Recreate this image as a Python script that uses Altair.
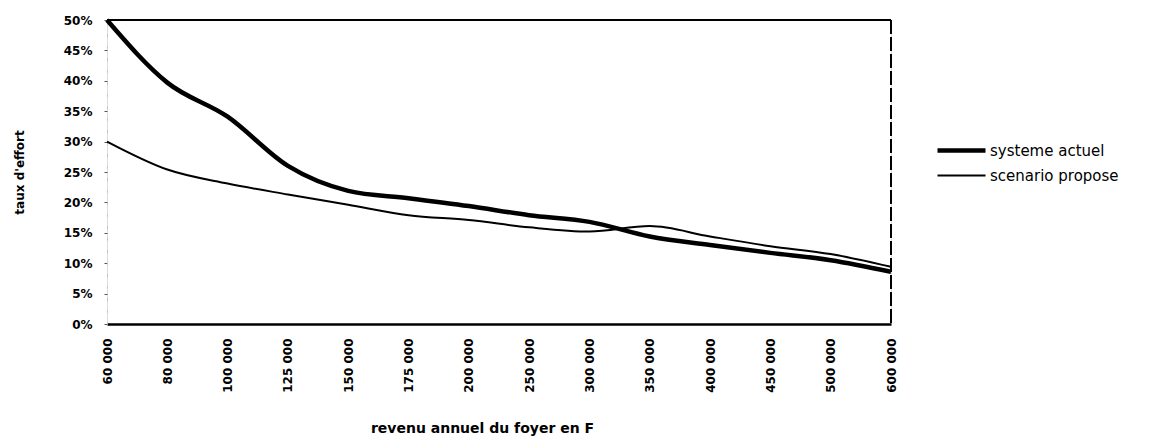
import altair as alt
import pandas as pd

revenus = ["60 000", "80 000", "100 000", "125 000", "150 000", "175 000", "200 000",
           "250 000", "300 000", "350 000", "400 000", "450 000", "500 000", "600 000"]
systeme_actuel = [50, 39.7, 34.1, 26.0, 21.9, 20.7, 19.4, 17.9, 16.8, 14.4, 13.0, 11.7, 10.5, 8.6]
scenario_propose = [30, 25.4, 23.1, 21.3, 19.6, 17.9, 17.1, 15.9, 15.2, 16.1, 14.4, 12.8, 11.5, 9.4]
series = ["systeme actuel", "scenario propose"]
y_ticks = [0, 0.05, 0.10, 0.15, 0.20, 0.25, 0.30, 0.35, 0.40, 0.45, 0.50]

rows = []
for name, vals in zip(series, [systeme_actuel, scenario_propose]):
    for r, v in zip(revenus, vals):
        rows.append({"revenu": r, "taux": v / 100.0, "serie": name})
df = pd.DataFrame(rows)

FONT = "DejaVu Sans"

x_scale = alt.Scale(type="point", domain=revenus, padding=0)
x_axis = alt.Axis(title="revenu annuel du foyer en F", labelAngle=270,
                  labelFont=FONT, labelFontSize=12, labelFontWeight="bold",
                  labelColor="black", labelPadding=14, ticks=False,
                  labelOverlap=False,
                  domainColor="black", domainWidth=2.5,
                  titleFont=FONT, titleFontSize=14, titleFontWeight="bold",
                  titleColor="black", titleX=375, titleY=104,
                  titleAlign="center", titleBaseline="middle")

y_scale = alt.Scale(domain=[0, 0.5], nice=False, zero=True)
y_axis = alt.Axis(title="taux d'effort", values=y_ticks, format=".0%",
                  labelFont=FONT, labelFontSize=12, labelFontWeight="bold",
                  labelColor="black", labelPadding=12, labelOverlap=False,
                  tickColor="#555", tickSize=3, tickWidth=1,
                  domainColor="#bbbbbb", domainDash=[2, 10], domainWidth=1,
                  grid=False, titleFont=FONT, titleFontSize=12,
                  titleFontWeight="bold", titleColor="black",
                  titleAngle=270, titleX=-88, titleY=152,
                  titleAlign="center", titleBaseline="middle")

legend = alt.Legend(orient="none", legendX=846, legendY=122, title=None,
                    symbolType="M-4,0H4", symbolSize=144, labelFont=FONT,
                    labelFontSize=15, labelColor="black", labelOffset=20,
                    rowPadding=8, padding=0)

lines = alt.Chart(df).mark_line(interpolate="monotone").encode(
    x=alt.X("revenu:O", sort=revenus, scale=x_scale, axis=x_axis),
    y=alt.Y("taux:Q", scale=y_scale, axis=y_axis),
    color=alt.Color("serie:N", scale=alt.Scale(domain=series, range=["black", "black"]),
                    legend=legend),
    strokeWidth=alt.StrokeWidth("serie:N", scale=alt.Scale(domain=series, range=[4.5, 2]),
                                legend=legend),
)

top_rule = alt.Chart(df).mark_rule(color="black", strokeWidth=2).encode(
    y=alt.YDatum(0.5, type="quantitative", scale=y_scale, axis=y_axis)
)
right_rule = alt.Chart(df).mark_rule(color="black", strokeWidth=1.3, strokeDash=[14, 3]).encode(
    x=alt.XDatum(revenus[-1], type="ordinal", scale=x_scale, axis=x_axis)
)

chart = alt.layer(lines, top_rule, right_rule).properties(
    width=784, height=304,
    autosize=alt.AutoSizeParams(type="none"),
    padding={"left": 99, "top": 12, "right": 250, "bottom": 115},
).configure_view(stroke=None).configure(background="white")

chart.save("out.html", embed_options={"renderer": "svg", "actions": False})
